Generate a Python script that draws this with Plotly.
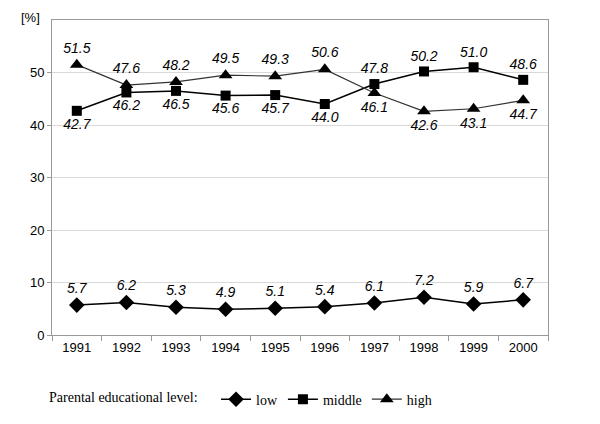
import plotly.graph_objects as go

years = ["1991", "1992", "1993", "1994", "1995", "1996", "1997", "1998", "1999", "2000"]
low = [5.7, 6.2, 5.3, 4.9, 5.1, 5.4, 6.1, 7.2, 5.9, 6.7]
middle = [42.7, 46.2, 46.5, 45.6, 45.7, 44.0, 47.8, 50.2, 51.0, 48.6]
high = [51.5, 47.6, 48.2, 49.5, 49.3, 50.6, 46.1, 42.6, 43.1, 44.7]
y_ticks = [0, 10, 20, 30, 40, 50]

mid_pos = ["bottom center" if m < h else "top center" for m, h in zip(middle, high)]
high_pos = ["top center" if h > m else "bottom center" for m, h in zip(middle, high)]

label_font = dict(family="Liberation Sans, Arial, sans-serif", size=14, color="black", style="italic")

fig = go.Figure()
fig.add_trace(go.Scatter(
    x=years, y=low, name="low", mode="lines+markers+text",
    text=[f"{v:.1f}" for v in low], textposition="top center", textfont=label_font,
    line=dict(color="black", width=1.5),
    marker=dict(symbol="diamond", size=12, color="black"),
))
fig.add_trace(go.Scatter(
    x=years, y=middle, name="middle", mode="lines+markers+text",
    text=[f"{v:.1f}" for v in middle], textposition=mid_pos, textfont=label_font,
    line=dict(color="black", width=1.5),
    marker=dict(symbol="square", size=10, color="black"),
))
fig.add_trace(go.Scatter(
    x=years, y=high, name="high", mode="lines+markers+text",
    text=[f"{v:.1f}" for v in high], textposition=high_pos, textfont=label_font,
    line=dict(color="#333333", width=1.2),
    marker=dict(symbol="triangle-up", size=12, color="black"),
))

fig.update_layout(
    width=592, height=416,
    margin=dict(l=44, r=52, t=12, b=89, autoexpand=False),
    paper_bgcolor="white", plot_bgcolor="white",
    font=dict(family="Liberation Sans, Arial, sans-serif", size=13, color="black"),
    showlegend=True,
    legend=dict(
        orientation="h", x=-0.01, xanchor="left", y=-0.205, yanchor="middle",
        title=dict(text="Parental educational level:   ", side="left",
                   font=dict(family="Liberation Serif, Times New Roman, serif", size=14)),
        font=dict(family="Liberation Serif, Times New Roman, serif", size=14),
        itemwidth=30,
    ),
    annotations=[dict(text="[%]", xref="paper", yref="paper", x=-0.02, y=1.008,
                      xanchor="right", yanchor="middle", showarrow=False,
                      font=dict(size=13))],
)
fig.update_xaxes(
    type="category", range=[-0.5, 9.5],
    showline=True, linecolor="#999999", linewidth=1, mirror=True,
    ticks="outside", tickson="boundaries", ticklen=5, tickcolor="#999999",
    showgrid=False, tickfont=dict(size=13),
)
fig.update_yaxes(
    range=[0, 60], tickvals=y_ticks,
    showline=True, linecolor="#999999", linewidth=1, mirror=True,
    ticks="outside", ticklen=4, tickcolor="#999999",
    showgrid=True, gridcolor="#d9d9d9", gridwidth=1, zeroline=False,
    tickfont=dict(size=13),
)

fig.write_html("out.html")
